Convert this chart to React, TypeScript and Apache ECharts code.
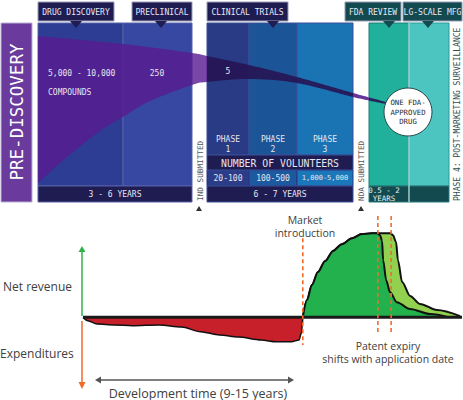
import React, { useEffect, useRef } from "react";
import * as echarts from "echarts";

// ---------- data ----------
const stageHeaders = ["DRUG DISCOVERY", "PRECLINICAL", "CLINICAL TRIALS", "FDA REVIEW", "LG-SCALE MFG"];
const compoundCounts = ["5,000 - 10,000", "250", "5"];
const compoundUnit = "COMPOUNDS";
const phaseNames = ["1", "2", "3"];
const volunteers = ["20-100", "100-500", "1,000-5,000"];
const durations = ["3 - 6 YEARS", "6 - 7 YEARS", "0.5 - 2\nYEARS"];
const milestones = ["IND SUBMITTED", "NDA SUBMITTED"];
const approvedText = "ONE FDA-\nAPPROVED\nDRUG";
const phase4Text = "PHASE 4: POST-MARKETING SURVEILLANCE";
const preDiscovery = "PRE-DISCOVERY";

// bottom chart (time units 0-100, revenue units, 100 = peak)
const expTime = [0, 1.3, 3.7, 8.4, 13, 20, 26, 31, 36, 41, 47, 51, 55, 57, 57.6, 58];
const expValue = [0, -4, -8, -9, -10, -9, -11.5, -17, -21, -23.5, -27, -29, -29, -27, -19, 0];
const revTime = [58, 59.1, 60.4, 62, 63.9, 66, 68.3, 71, 73.6, 76.3, 77.6, 78.4, 78.9, 79.2, 80, 81, 82.8, 86.3, 91.6, 96.8];
const revValue = [0, 20.5, 38.5, 54, 67, 79, 87, 94, 99, 100, 100, 97.5, 91, 68, 44, 30, 18, 10, 4, 0];
const revLateTime = [58, 59.1, 60.4, 62, 63.9, 66, 68.3, 71, 73.6, 76.3, 81.1, 81.8, 82.6, 83.1, 84.2, 86.3, 88.9, 93.4, 99.5];
const revLateValue = [0, 20.5, 38.5, 54, 67, 79, 87, 94, 99, 100, 100, 97.5, 89.5, 68, 42, 25.5, 16, 8.7, 1.5];
const marketIntroTime = 58;
const patentExpiryTimes = [77.8, 81.3];
const marketLineRange = [94, -33];
const patentLineRange = [120.5, -21];
const bottomLabels = ["Net revenue", "Expenditures", "Market", "introduction", "Patent expiry", "shifts with application date", "Development time (9-15 years)"];

// ---------- helpers ----------
const MONO = '"DejaVu Sans Mono", "Liberation Mono", monospace';
const SANS = '"Open Sans", "Noto Sans", sans-serif';

function densify(pts: number[][]) {
  const out: number[][] = [];
  for (let i = 0; i < pts.length - 1; i++) {
    const p0 = pts[Math.max(0, i - 1)], p1 = pts[i], p2 = pts[i + 1], p3 = pts[Math.min(pts.length - 1, i + 2)];
    for (let s = 0; s < 10; s++) {
      const t = s / 10, t2 = t * t, t3 = t2 * t;
      const f = (a: number, b: number, c: number, d: number) =>
        0.5 * (2 * b + (-a + c) * t + (2 * a - 5 * b + 4 * c - d) * t2 + (-a + 3 * b - 3 * c + d) * t3);
      out.push([f(p0[0], p1[0], p2[0], p3[0]), f(p0[1], p1[1], p2[1], p3[1])]);
    }
  }
  out.push(pts[pts.length - 1]);
  return out;
}
function yAt(d: number[][], x: number) {
  if (x <= d[0][0]) return d[0][1];
  for (let i = 0; i < d.length - 1; i++) {
    if (x >= d[i][0] && x <= d[i + 1][0]) {
      const t = (x - d[i][0]) / (d[i + 1][0] - d[i][0] || 1);
      return d[i][1] + t * (d[i + 1][1] - d[i][1]);
    }
  }
  return d[d.length - 1][1];
}
const upperEdge = densify([[38, 36], [123, 44], [192, 53], [207, 56], [249, 65], [297, 77], [353, 93], [386, 102]]);
const lowerEdge = densify([[38, 183], [67, 157], [100, 131], [123, 117], [150, 101], [192, 85], [207, 82], [249, 79], [297, 83], [353, 97], [386, 104]]);
function bandPoly(x0: number, x1: number) {
  const up: number[][] = [], lo: number[][] = [];
  for (let x = x0; x <= x1 + 0.001; x += 1) {
    up.push([x, yAt(upperEdge, x)]);
    lo.push([x, yAt(lowerEdge, x)]);
  }
  return up.concat(lo.reverse());
}

function buildGraphics() {
  const g: any[] = [];
  const rect = (x: number, y: number, w: number, h: number, fill: string, stroke?: string, z = 1) =>
    g.push({ type: "rect", shape: { x, y, width: w, height: h }, style: { fill, stroke: stroke || null, lineWidth: 1 }, z });
  const txt = (x: number, y: number, text: string, size: number, fill: string, opts: any = {}) =>
    g.push({
      type: "text", x, y, rotation: opts.rotation || 0, z: opts.z || 10,
      style: {
        text, fill, font: `${opts.weight || "normal"} ${size}px ${opts.family || MONO}`,
        align: opts.align || "center", verticalAlign: opts.valign || "middle", lineHeight: opts.lineHeight,
      },
    });
  const line = (x1: number, y1: number, x2: number, y2: number, stroke: string, w = 1, z = 3) =>
    g.push({ type: "line", shape: { x1, y1, x2, y2 }, style: { stroke, lineWidth: w }, z });
  const tri = (pts: number[][], fill: string, z = 3) =>
    g.push({ type: "polygon", shape: { points: pts }, style: { fill }, z });

  const navy = "#1f1c52";
  const teal = "#124a50";

  // pre-discovery
  rect(1, 23, 31, 179, "#6a3b9c", "#b9aed6");
  txt(17, 112, preDiscovery, 17.5, "#ffffff", { rotation: Math.PI / 2 });

  // drug discovery + preclinical
  rect(38, 23, 85, 163, "#2e3d94", "#5660a8");
  rect(123, 23, 69, 163, "#3748a2", "#5660a8");
  rect(38, 186, 154, 16, navy, "#5660a8");

  // clinical
  const phaseX = [207, 249, 297, 353];
  const phaseCol = ["#283b84", "#1b5597", "#1a74b4"];
  const cellCol = ["#2b3d88", "#1c5a9f", "#1a78ba"];
  for (let i = 0; i < 3; i++) {
    rect(phaseX[i], 23, phaseX[i + 1] - phaseX[i], 132, phaseCol[i], "#3b4f98");
    rect(phaseX[i], 170, phaseX[i + 1] - phaseX[i], 16, cellCol[i], "#2a3580");
  }
  rect(207, 155, 146, 15, navy, "#3b4f98");
  rect(207, 186, 146, 16, navy, "#3b4f98");

  // fda + mfg
  rect(369, 23, 40, 163, "#20b09c", "#167e78");
  rect(409, 23, 40, 163, "#4cc4c0", "#2a9a98");
  rect(369, 186, 40, 16, teal, "#2a7a7a");
  rect(409, 186, 40, 16, teal, "#2a7a7a");
  line(409, 23, 409, 202, "#d8f0ee", 1, 2);

  // funnel band
  const purple = "rgba(88,26,144,0.8)";
  const dark = "rgba(38,22,85,0.92)";
  g.push({ type: "polygon", shape: { points: bandPoly(38, 207) }, style: { fill: purple }, z: 4 });
  g.push({ type: "polygon", shape: { points: bandPoly(207, 353) }, style: { fill: dark }, z: 4 });
  g.push({ type: "polygon", shape: { points: bandPoly(353, 369) }, style: { fill: "rgba(96,40,150,0.95)" }, z: 4 });
  g.push({ type: "polygon", shape: { points: bandPoly(369, 386) }, style: { fill: dark }, z: 4 });

  // headers
  const hdr = [
    [38, 76, 76, navy], [132, 60, 161, navy], [207, 81, 273, navy], [345, 56, 389, teal], [403, 59, 428, teal],
  ];
  hdr.forEach((h, i) => {
    const [x, w, tx, c] = h as any;
    rect(x, 2, w, 19, c, "#9a9cb8", 6);
    tri([[tx - 6, 21], [tx + 6, 21], [tx, 28]], c, 6);
    txt(x + w / 2, 12, stageHeaders[i], 8, "#e8e8f2", { z: 11 });
  });

  // stage texts
  txt(48, 73, compoundCounts[0], 8, "#e6e6f0", { align: "left" });
  txt(48, 92, compoundUnit, 8, "#e6e6f0", { align: "left" });
  txt(157, 73, compoundCounts[1], 8, "#e6e6f0");
  txt(228, 71, compoundCounts[2], 8, "#e6e6f0");
  txt(115, 194, durations[0], 8, "#e6e6f0");
  const phaseCx = [228, 273, 325];
  for (let i = 0; i < 3; i++) {
    txt(phaseCx[i], 144, "PHASE\n" + phaseNames[i], 8, "#e6e6f0", { lineHeight: 10 });
    txt(phaseCx[i], 178, volunteers[i], i === 2 ? 7 : 8, "#e6e6f0");
  }
  txt(280, 163, "NUMBER OF VOLUNTEERS", 9.8, "#e6e6f0");
  txt(280, 194, durations[1], 8, "#e6e6f0");
  txt(384, 194, durations[2], 7.5, "#e6f0ee", { lineHeight: 8 });

  // approved circle
  g.push({ type: "circle", shape: { cx: 408, cy: 112, r: 24 }, style: { fill: "#ffffff", stroke: "#2a4a4a", lineWidth: 1 }, z: 8 });
  txt(408, 112, approvedText, 7.3, "#2a2a2a", { lineHeight: 9.5, z: 9 });

  // milestones
  txt(200, 201, milestones[0], 7.7, "#555555", { rotation: Math.PI / 2, align: "left" });
  tri([[196, 211], [202, 211], [199, 206]], "#333333");
  txt(361, 201, milestones[1], 7.7, "#555555", { rotation: Math.PI / 2, align: "left" });
  tri([[358, 211], [364, 211], [361, 206]], "#333333");
  txt(457, 201, phase4Text, 8, "#2f4f4f", { rotation: Math.PI / 2, align: "left" });

  // bottom: axis arrows
  line(82, 251, 82, 316, "#2db34a", 1.5);
  tri([[78.5, 252], [85.5, 252], [82, 246]], "#2db34a");
  line(82, 321, 82, 383, "#f06a28", 1.5);
  tri([[78.5, 382], [85.5, 382], [82, 389]], "#f06a28");
  line(100, 380, 289, 380, "#555555", 1.5);
  tri([[95, 380], [101, 376.5], [101, 383.5]], "#555555");
  tri([[294, 380], [288, 376.5], [288, 383.5]], "#555555");

  txt(3, 286, bottomLabels[0], 12, "#404040", { family: SANS, align: "left" });
  txt(0, 353, bottomLabels[1], 12, "#404040", { family: SANS, align: "left" });
  txt(305, 220, bottomLabels[2], 10.5, "#404040", { family: SANS });
  txt(305, 233, bottomLabels[3], 10.5, "#404040", { family: SANS });
  txt(388, 346, bottomLabels[4], 10.5, "#404040", { family: SANS });
  txt(388, 359, bottomLabels[5], 10.5, "#404040", { family: SANS });
  txt(198, 393, bottomLabels[6], 12.5, "#404040", { family: SANS });
  return g;
}

const zip = (xs: number[], ys: number[]) => xs.map((x, i) => [x, ys[i]]);

export default function App() {
  const ref = useRef<HTMLDivElement>(null);
  useEffect(() => {
    if (!ref.current) return;
    const chart = echarts.init(ref.current, undefined, { renderer: "svg" });
    const dashed = (t: number, range: number[]) => ({
      type: "line", data: [[t, range[0]], [t, range[1]]], symbol: "none", z: 6,
      lineStyle: { color: "#f26b2a", width: 1.6, type: [4, 3] }, silent: true,
    });
    chart.setOption({
      animation: false,
      backgroundColor: "#ffffff",
      grid: { left: 83, top: 208, width: 379, height: 143 },
      xAxis: { type: "value", min: 0, max: 100, show: false },
      yAxis: { type: "value", min: -40, max: 130, show: false },
      series: [
        {
          type: "line", data: zip(revLateTime, revLateValue), symbol: "none", smooth: 0.3, smoothMonotone: "x", z: 2,
          lineStyle: { color: "#111", width: 2 }, areaStyle: { color: "#92d050", opacity: 1 },
        },
        {
          type: "line", data: zip(revTime, revValue), symbol: "none", smooth: 0.3, smoothMonotone: "x", z: 3,
          lineStyle: { color: "#111", width: 2 }, areaStyle: { color: "#22b14c", opacity: 1 },
        },
        {
          type: "line", data: zip(expTime, expValue), symbol: "none", smooth: 0.3, smoothMonotone: "x", z: 3,
          lineStyle: { color: "#111", width: 1.5 }, areaStyle: { color: "#c8202a", opacity: 1 },
        },
        {
          type: "line", data: [[0, 0], [100, 0]], symbol: "none", z: 4,
          lineStyle: { color: "#1a1a1a", width: 3 },
        },
        dashed(marketIntroTime, marketLineRange),
        dashed(patentExpiryTimes[0], patentLineRange),
        dashed(patentExpiryTimes[1], patentLineRange),
      ],
      graphic: buildGraphics(),
    });
    return () => chart.dispose();
  }, []);
  return <div ref={ref} style={{ width: 463, height: 400, position: "absolute", left: 0, top: 0 }} />;
}
